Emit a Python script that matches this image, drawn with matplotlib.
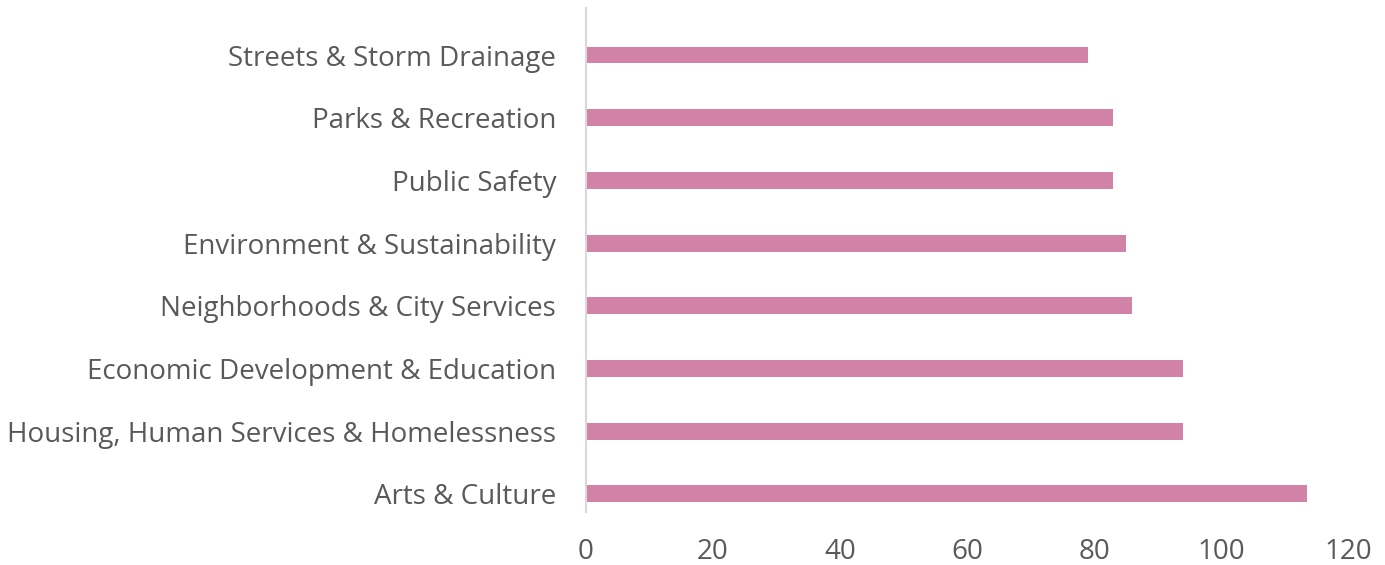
import matplotlib
matplotlib.use("Agg")
import matplotlib.pyplot as plt

categories = ["Arts & Culture",
              "Housing, Human Services & Homelessness",
              "Economic Development & Education",
              "Neighborhoods & City Services",
              "Environment & Sustainability",
              "Public Safety",
              "Parks & Recreation",
              "Streets & Storm Drainage"]
values = [113.5, 94, 94, 86, 85, 83, 83, 79]
xticks = [0, 20, 40, 60, 80, 100, 120]

plt.rcParams['font.family'] = ['Open Sans', 'DejaVu Sans']

fig = plt.figure(figsize=(13.85, 5.65), dpi=100)
ax = fig.add_axes([586/1385, 1 - 512/565, (1348 - 586)/1385, (512 - 8)/565])

ypos = list(range(len(categories)))
ax.barh(ypos, values, height=0.27, color="#D282A6", edgecolor="none")

ax.set_xlim(0, 120)
ax.set_ylim(-0.29, 7.75)
ax.set_xticks(xticks)
ax.set_xticklabels([str(t) for t in xticks])
ax.set_yticks(ypos)
ax.set_yticklabels(categories)

for s in ["top", "right", "bottom"]:
    ax.spines[s].set_visible(False)
ax.spines["left"].set_color("#D9D9D9")
ax.spines["left"].set_linewidth(1.5)

ax.tick_params(axis="both", length=0, colors="#595959", labelsize=20)
ax.tick_params(axis="y", pad=21.5)
ax.tick_params(axis="x", pad=18.5)

fig.savefig("out.png", dpi=100)
